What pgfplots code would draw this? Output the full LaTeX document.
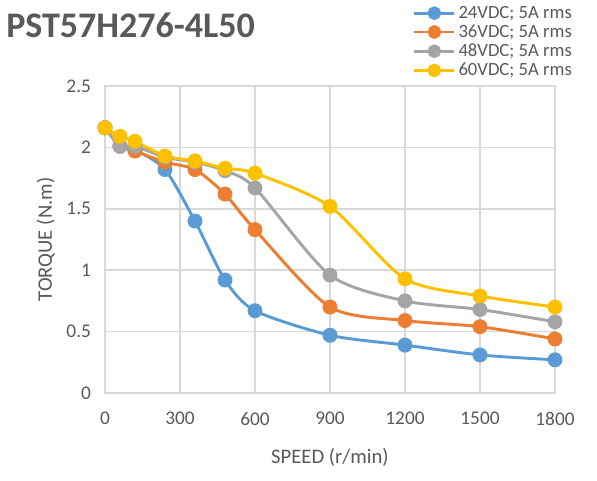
\documentclass[border=0pt]{standalone}
\usepackage{fontspec}
\setmainfont{Carlito}
\usepackage{pgfplots}
\pgfplotsset{compat=1.18}
\definecolor{c24}{HTML}{5B9BD5}
\definecolor{c36}{HTML}{ED7D31}
\definecolor{c48}{HTML}{A5A5A5}
\definecolor{c60}{HTML}{FFC000}
\definecolor{gridc}{HTML}{D9D9D9}
\definecolor{txt}{HTML}{595959}
\begin{document}
\begin{tikzpicture}[x=0.75pt,y=0.75pt]
\useasboundingbox (0,0) rectangle (597,480);
\node[anchor=base west, inner sep=0pt, text=txt, font=\fontsize{27}{30}\selectfont\bfseries] at (6,443) {PST57H276-4L50};
\begin{axis}[
  at={(78.75pt,65.25pt)}, anchor=south west,
  scale only axis, width=337.5pt, height=230.25pt,
  xmin=0, xmax=1800, ymin=0, ymax=2.5,
  xtick={0,300,...,1800}, ytick={0,0.5,...,2.5},
  grid=major, major grid style={gridc, line width=1.1pt},
  axis line style={gridc, line width=1.1pt},
  tick style={draw=none},
  ticklabel style={text=txt, font=\fontsize{14.5}{16}\selectfont},
  /pgf/number format/assume math mode=true,
  /pgf/number format/set thousands separator={},
  yticklabel style={/pgf/number format/fixed},
  xticklabel style={yshift=-11pt},
  yticklabel style={xshift=-7pt},
  xlabel={SPEED (r/min)}, ylabel={TORQUE (N.m)},
  label style={text=txt, font=\fontsize{15.5}{17}\selectfont},
  xlabel style={yshift=-10pt},
  ylabel style={yshift=2pt},
  every axis plot/.append style={smooth, tension=0.45, line width=2.2pt, mark=*, mark size=4.5pt},
  legend style={at={(1.044,1.27)}, anchor=north east, draw=none, fill=none,
    font=\fontsize{14}{15}\selectfont, text=txt, row sep=-0.6pt, inner sep=0pt},
  legend cell align=left,
  legend image code/.code={\draw[#1, line width=2.2pt] (0pt,0pt) -- (30pt,0pt); \draw[#1, mark size=4pt] plot coordinates {(15pt,0pt)};},
]
\addplot[c24] coordinates {(0,2.16) (60,2.01) (120,1.98) (240,1.82) (360,1.40) (480,0.92) (600,0.67) (900,0.47) (1200,0.39) (1500,0.31) (1800,0.27)};
\addplot[c36] coordinates {(0,2.16) (60,2.01) (120,1.97) (240,1.88) (360,1.82) (480,1.62) (600,1.33) (900,0.70) (1200,0.59) (1500,0.54) (1800,0.44)};
\addplot[c48] coordinates {(0,2.16) (60,2.01) (120,2.01) (240,1.92) (360,1.88) (480,1.81) (600,1.67) (900,0.96) (1200,0.75) (1500,0.68) (1800,0.58)};
\addplot[c60] coordinates {(0,2.16) (60,2.09) (120,2.05) (240,1.93) (360,1.89) (480,1.83) (600,1.79) (900,1.52) (1200,0.93) (1500,0.79) (1800,0.70)};
\legend{24VDC; 5A rms, 36VDC; 5A rms, 48VDC; 5A rms, 60VDC; 5A rms}
\end{axis}
\end{tikzpicture}
\end{document}
